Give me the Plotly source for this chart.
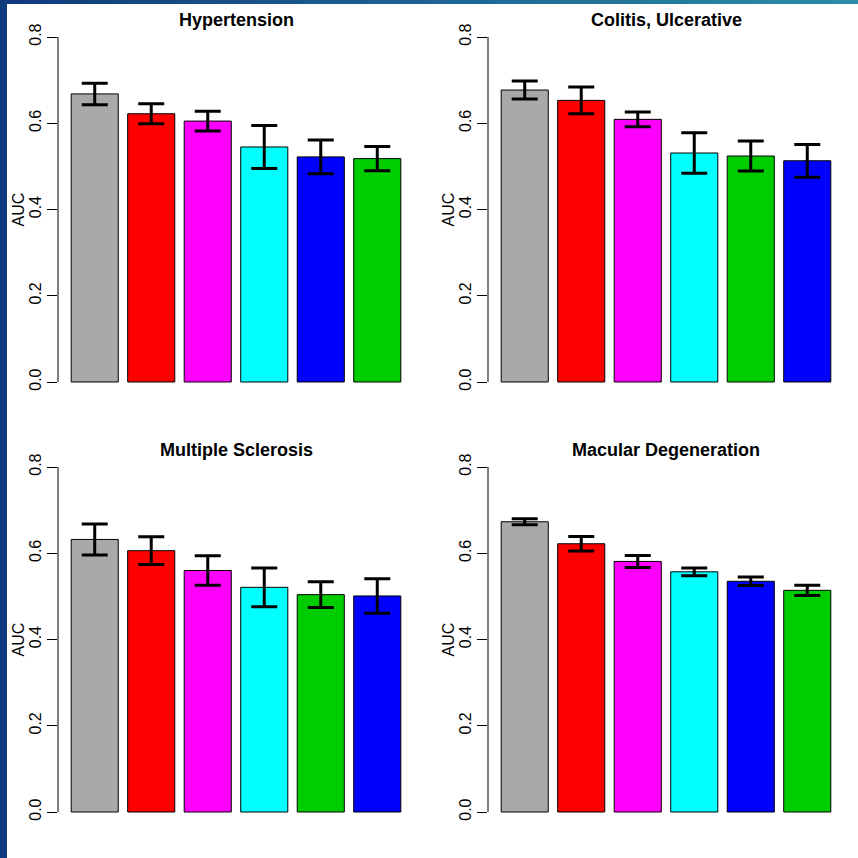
import plotly.graph_objects as go

# ---- data ----
titles = ["Hypertension", "Colitis, Ulcerative", "Multiple Sclerosis", "Macular Degeneration"]

hyp_methods = ["gray", "red", "magenta", "cyan", "blue", "green"]
hyp_auc = [0.668, 0.622, 0.605, 0.545, 0.522, 0.518]
hyp_err = [0.025, 0.023, 0.023, 0.050, 0.039, 0.028]

col_methods = ["gray", "red", "magenta", "cyan", "green", "blue"]
col_auc = [0.677, 0.653, 0.609, 0.531, 0.524, 0.513]
col_err = [0.021, 0.031, 0.017, 0.047, 0.035, 0.038]

ms_methods = ["gray", "red", "magenta", "cyan", "green", "blue"]
ms_auc = [0.632, 0.606, 0.560, 0.521, 0.504, 0.501]
ms_err = [0.036, 0.032, 0.034, 0.045, 0.030, 0.040]

mac_methods = ["gray", "red", "magenta", "cyan", "blue", "green"]
mac_auc = [0.673, 0.622, 0.581, 0.557, 0.535, 0.514]
mac_err = [0.007, 0.017, 0.014, 0.009, 0.010, 0.012]

y_ticks = [0.0, 0.2, 0.4, 0.6, 0.8]
y_ticklabels = ["0.0", "0.2", "0.4", "0.6", "0.8"]

color_map = {"gray": "#A9A9A9", "red": "#FF0000", "magenta": "#FF00FF",
             "cyan": "#00FFFF", "blue": "#0000FF", "green": "#00CD00"}

panels = [
    (hyp_methods, hyp_auc, hyp_err),
    (col_methods, col_auc, col_err),
    (ms_methods, ms_auc, ms_err),
    (mac_methods, mac_auc, mac_err),
]

W = H = 858
# pixel geometry of plot regions
x_doms_px = [(58, 414), (488, 844)]
y_doms_px = [(23.2, 395.8), (453.2, 825.8)]

fig = go.Figure()
shapes = []
annotations = []
font_family = "Liberation Sans, Arial, Helvetica, sans-serif"

for i, (methods, auc, err) in enumerate(panels):
    r, c = divmod(i, 2)
    n = i + 1
    xa = "x" if n == 1 else f"x{n}"
    ya = "y" if n == 1 else f"y{n}"
    fig.add_trace(go.Bar(
        x=methods, y=auc,
        marker=dict(color=[color_map[m] for m in methods],
                    line=dict(color="black", width=1)),
        error_y=dict(type="data", array=err, visible=True,
                     color="black", thickness=3, width=13),
        xaxis=xa, yaxis=ya, showlegend=False,
    ))
    x0, x1 = x_doms_px[c]
    yt, yb = y_doms_px[r]
    xkey = "xaxis" if n == 1 else f"xaxis{n}"
    ykey = "yaxis" if n == 1 else f"yaxis{n}"
    fig.update_layout(**{
        xkey: dict(domain=[x0 / W, x1 / W], range=[-0.65, len(methods) - 0.35],
                   visible=False, anchor=ya, categoryorder="array",
                   categoryarray=methods),
        ykey: dict(domain=[1 - yb / H, 1 - yt / H], range=[-0.032, 0.832],
                   anchor=xa, showgrid=False, zeroline=False, showline=False,
                   tickmode="array", tickvals=y_ticks, ticktext=y_ticklabels,
                   ticks="outside", ticklen=10, tickwidth=1, tickcolor="black",
                   tickangle=-90,
                   tickfont=dict(family=font_family, size=16, color="black")),
    })
    # R-style axis line spanning 0..0.8
    shapes.append(dict(type="line", xref=f"{xa} domain", yref=ya,
                       x0=0, x1=0, y0=y_ticks[0], y1=y_ticks[-1],
                       line=dict(color="black", width=1)))
    annotations.append(dict(text=f"<b>{titles[i]}</b>", xref="paper", yref="paper",
                            x=(x0 + x1) / 2 / W, y=1 - (20 + r * 430) / H,
                            showarrow=False, xanchor="center", yanchor="middle",
                            font=dict(family=font_family, size=18, color="black")))
    annotations.append(dict(text="AUC", xref="paper", yref="paper",
                            x=(x0 - 40) / W, y=1 - ((yt + yb) / 2) / H,
                            textangle=-90, showarrow=False,
                            xanchor="center", yanchor="middle",
                            font=dict(family=font_family, size=16, color="black")))

# decorative slide border: left navy band and top gradient band
shapes.insert(0, dict(type="rect", xref="paper", yref="paper", x0=0, x1=7 / W,
                      y0=0, y1=1, line=dict(width=0), fillcolor="#0E3B7D", layer="below"))
nseg = 40
c0 = (16, 58, 124)
c1 = (42, 140, 168)
for k in range(nseg):
    t = k / (nseg - 1)
    col = tuple(int(round(c0[j] + (c1[j] - c0[j]) * t)) for j in range(3))
    shapes.insert(1 + k, dict(type="rect", xref="paper", yref="paper",
                              x0=k / nseg, x1=(k + 1) / nseg + 0.001,
                              y0=1 - 4 / H, y1=1, line=dict(width=0),
                              fillcolor="rgb(%d,%d,%d)" % col, layer="below"))

fig.update_layout(width=W, height=H, margin=dict(l=0, r=0, t=0, b=0),
                  paper_bgcolor="white", plot_bgcolor="white",
                  bargap=1 - 1 / 1.2, shapes=shapes, annotations=annotations,
                  font=dict(family=font_family))

fig.write_html("out.html")
